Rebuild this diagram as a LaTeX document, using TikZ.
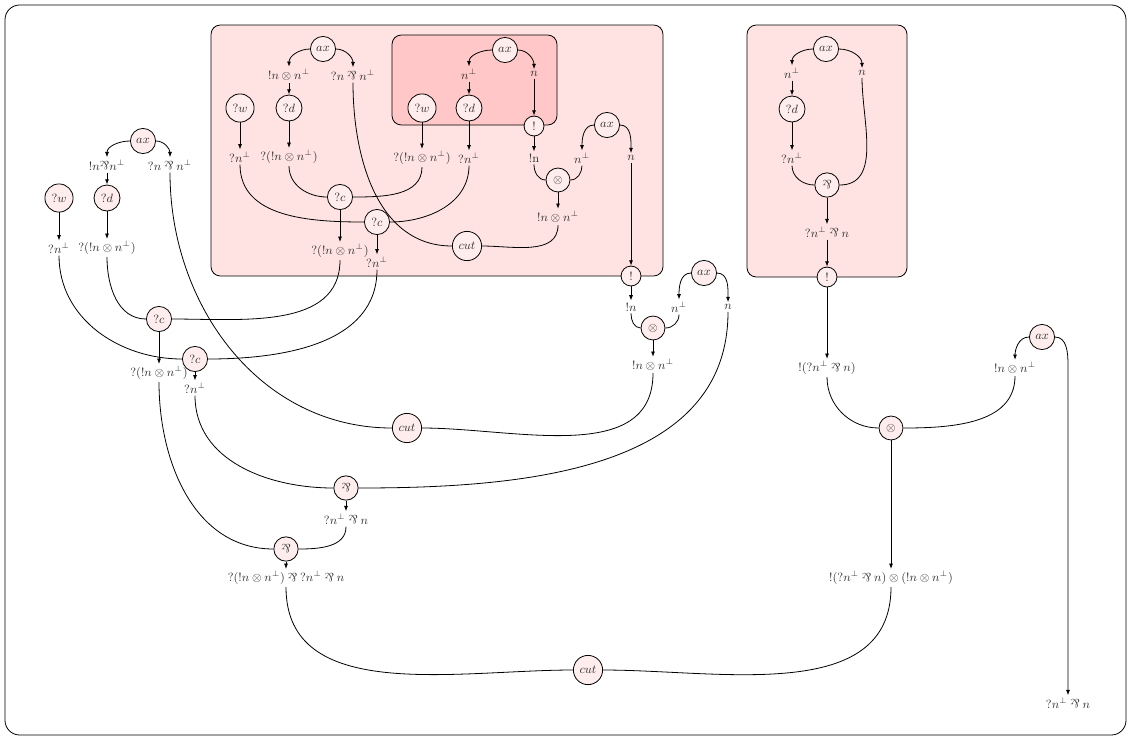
\documentclass[tikz,border=0pt]{standalone}
\usepackage{graphicx}
\usetikzlibrary{arrows.meta,calc}
% multiplicative disjunction: an upside-down ampersand
\newcommand{\parsy}{\mathbin{\rotatebox[origin=c]{180}{\&}}}
\newcommand{\parsyord}{\mathord{\rotatebox[origin=c]{180}{\&}}}
\begin{document}
\begin{tikzpicture}[x=0.75pt,y=-0.75pt]
\tikzset{
  pn/.style={circle, draw, fill=red!7, inner sep=3pt, font=\small, text=black!80, line width=0.6pt},
  lab/.style={inner sep=1.5pt, font=\small, text=black!80},
  wire/.style={line width=0.6pt},
  arr/.style={wire, -{Latex[length=4pt,width=3pt]}},
  boxa/.style={draw, line width=0.6pt, rounded corners=7pt, fill=red!11},
  boxb/.style={draw, line width=0.6pt, rounded corners=7pt, fill=red!22},
}
\useasboundingbox (0,0) rectangle (1131,740);
\draw[line width=0.6pt, rounded corners=11pt] (5,5) rectangle (1126,735);

% exponential boxes
\draw[boxa] (211,25) rectangle (663,276);
\draw[boxb] (392,35) rectangle (557,125);
\draw[boxa] (747,25) rectangle (907,277);

% ---- first box ----
\node[pn] (ax1) at (323,49) {$ax$};
\node[lab] (l1a) at (289,75) {$!n \otimes n^{\perp}$};
\node[lab] (l1b) at (353,75) {$?n \parsy n^{\perp}$};
\node[pn] (w1) at (240,108) {$?w$};
\node[pn] (d1) at (289,108) {$?d$};
\node[lab] (l1c) at (240,157) {$?n^{\perp}$};
\node[lab] (l1d) at (289,157) {$?(!n \otimes n^{\perp})$};

\node[pn] (ax2) at (505,50) {$ax$};
\node[lab] (l2a) at (469,74) {$n^{\perp}$};
\node[lab] (l2b) at (534,74) {$n$};
\node[pn] (w2) at (422,108) {$?w$};
\node[pn] (d2) at (469,108) {$?d$};
\node[pn] (bang1) at (534,126) {$!$};
\node[lab] (l2c) at (422,158) {$?(!n \otimes n^{\perp})$};
\node[lab] (l2d) at (469,158) {$?n^{\perp}$};
\node[lab] (l2e) at (534,158) {$!\mathrm{n}$};

\node[pn] (ax3) at (607,125) {$ax$};
\node[lab] (l3a) at (582,158) {$n^{\perp}$};
\node[lab] (l3b) at (631,158) {$n$};
\node[pn] (ten1) at (558,180) {$\otimes$};
\node[lab] (l3c) at (558,217) {$!n \otimes n^{\perp}$};

\node[pn] (c1) at (340,197) {$?c$};
\node[lab] (l4a) at (340,251) {$?(!n \otimes n^{\perp})$};
\node[pn] (c2) at (377,222) {$?c$};
\node[lab] (l4b) at (377,262) {$?n^{\perp}$};
\node[pn] (cut1) at (467,246) {$cut$};
\node[pn] (bang2) at (631,276) {$!$};

\draw[arr] (ax1.west) to[out=180,in=90] (l1a.north);
\draw[arr] (ax1.east) to[out=0,in=90] (l1b.north);
\draw[arr] (l1a) -- (d1);
\draw[arr] (w1) -- (l1c);
\draw[arr] (d1) -- (l1d);
\draw[arr] (ax2.west) to[out=180,in=90] (l2a.north);
\draw[arr] (ax2.east) to[out=0,in=90] (l2b.north);
\draw[arr] (l2a) -- (d2);
\draw[arr] (w2) -- (l2c);
\draw[arr] (d2) -- (l2d);
\draw[arr] (l2b) -- (bang1);
\draw[arr] (bang1) -- (l2e);
\draw[arr] (ax3.west) to[out=180,in=90] (l3a.north);
\draw[arr] (ax3.east) to[out=0,in=90] (l3b.north);
\draw[wire] (l2e.south) to[out=-90,in=180] (ten1.west);
\draw[wire] (l3a.south) to[out=-90,in=0] (ten1.east);
\draw[arr] (ten1) -- (l3c);
\draw[arr] (l3b) -- (bang2);
\draw[wire] (l1d.south) to[out=-90,in=180] (c1.west);
\draw[wire] (l2c.south) to[out=-90,in=0] (c1.east);
\draw[arr] (c1) -- (l4a);
\draw[wire] (l1c.south) to[out=-90,in=180] (c2.west);
\draw[wire] (l2d.south) to[out=-90,in=0] (c2.east);
\draw[arr] (c2) -- (l4b);
\draw[wire] (l1b.south) to[out=-90,in=180] (cut1.west);
\draw[wire] (l3c.south) to[out=-90,in=0] (cut1.east);

% ---- tensor after the first box ----
\node[lab] (l5a) at (631,307) {$!n$};
\node[pn] (ax4) at (704,273) {$ax$};
\node[lab] (l5b) at (679,307) {$n^{\perp}$};
\node[lab] (l5n) at (728,307) {$n$};
\node[pn] (ten2) at (653,328) {$\otimes$};
\node[lab] (l5c) at (653,365) {$!n \otimes n^{\perp}$};
\draw[arr] (bang2) -- (l5a);
\draw[arr] (ax4.west) to[out=180,in=90] (l5b.north);
\draw[arr] (ax4.east) to[out=0,in=90] (l5n.north);
\draw[wire] (l5a.south) to[out=-90,in=180] (ten2.west);
\draw[wire] (l5b.south) to[out=-90,in=0] (ten2.east);
\draw[arr] (ten2) -- (l5c);

% ---- left part ----
\node[pn] (ax5) at (143,141) {$ax$};
\node[lab] (l6a) at (107,165) {$!n\parsyord n^{\perp}$};
\node[lab] (l6b) at (170,165) {$?n \parsy n^{\perp}$};
\node[pn] (w3) at (59,198) {$?w$};
\node[pn] (d3) at (107,198) {$?d$};
\node[lab] (l6c) at (59,248) {$?n^{\perp}$};
\node[lab] (l6d) at (107,248) {$?(!n \otimes n^{\perp})$};
\node[pn] (c3) at (159,319) {$?c$};
\node[pn] (c4) at (195,359) {$?c$};
\node[lab] (l7a) at (159,373) {$?(!n \otimes n^{\perp})$};
\node[lab] (l7b) at (195,388) {$?n^{\perp}$};
\node[pn] (cut2) at (407,428) {$cut$};
\node[pn] (par1) at (346,488) {$\parsyord$};
\node[lab] (l8) at (346,519) {$?n^{\perp} \parsy n$};
\node[pn] (par2) at (286,549) {$\parsyord$};
\node[lab] (l9) at (286,578) {$?(!n \otimes n^{\perp}) \parsy {?}n^{\perp} \parsy n$};
\node[pn] (cut3) at (588,670) {$cut$};

\draw[arr] (ax5.west) to[out=180,in=90] (l6a.north);
\draw[arr] (ax5.east) to[out=0,in=90] (l6b.north);
\draw[arr] (l6a) -- (d3);
\draw[arr] (w3) -- (l6c);
\draw[arr] (d3) -- (l6d);
\draw[wire] (l6d.south) to[out=-90,in=180] (c3.west);
\draw[wire] (l4a.south) to[out=-90,in=0] (c3.east);
\draw[arr] (c3) -- (l7a);
\draw[wire] (l6c.south) to[out=-90,in=180] (c4.west);
\draw[wire] (l4b.south) to[out=-90,in=0] (c4.east);
\draw[arr] (c4) -- (l7b);
\draw[wire] (l6b.south) to[out=-90,in=180] (cut2.west);
\draw[wire] (l5c.south) to[out=-90,in=0] (cut2.east);
\draw[wire] (l7b.south) to[out=-90,in=180] (par1.west);
\draw[wire] (l5n.south) to[out=-90,in=0] (par1.east);
\draw[arr] (par1) -- (l8);
\draw[wire] (l7a.south) to[out=-90,in=180] (par2.west);
\draw[wire] (l8.south) to[out=-90,in=0] (par2.east);
\draw[arr] (par2) -- (l9);

% ---- right part ----
\node[pn] (ax6) at (826,49) {$ax$};
\node[lab] (l10a) at (792,73) {$n^{\perp}$};
\node[lab] (l10b) at (862,73) {$n$};
\node[pn] (d4) at (792,109) {$?d$};
\node[lab] (l10c) at (792,158) {$?n^{\perp}$};
\node[pn] (par3) at (827,185) {$\parsyord$};
\node[lab] (l10d) at (827,232) {$?n^{\perp} \parsy n$};
\node[pn] (bang3) at (827,277) {$!$};
\node[lab] (l11) at (827,368) {$!(?n^{\perp} \parsy n)$};
\node[pn] (ten3) at (891,428) {$\otimes$};
\node[pn] (ax7) at (1042,337) {$ax$};
\node[lab] (l12) at (1015,368) {$!n \otimes n^{\perp}$};
\node[lab] (l13) at (891,578) {$!(?n^{\perp} \parsy n) \otimes (!n \otimes n^{\perp})$};
\node[lab] (l14) at (1068,703) {$?n^{\perp} \parsy n$};

\draw[arr] (ax6.west) to[out=180,in=90] (l10a.north);
\draw[arr] (ax6.east) to[out=0,in=90] (l10b.north);
\draw[arr] (l10a) -- (d4);
\draw[arr] (d4) -- (l10c);
\draw[wire] (l10c.south) to[out=-90,in=180] (par3.west);
\draw[wire] (l10b.south) to[out=-90,in=0] (par3.east);
\draw[arr] (par3) -- (l10d);
\draw[arr] (l10d) -- (bang3);
\draw[arr] (bang3) -- (l11);
\draw[wire] (l11.south) to[out=-90,in=180] (ten3.west);
\draw[wire] (l12.south) to[out=-90,in=0] (ten3.east);
\draw[arr] (ten3) -- (l13);
\draw[arr] (ax7.west) to[out=180,in=90] (l12.north);
\draw[arr] (ax7.east) to[out=0,in=90] ($(l14.north |- ax7.south)+(0,15)$) -- (l14.north);

% ---- final cut ----
\draw[wire] (l9.south) to[out=-90,in=180] (cut3.west);
\draw[wire] (l13.south) to[out=-90,in=0] (cut3.east);
\end{tikzpicture}
\end{document}
